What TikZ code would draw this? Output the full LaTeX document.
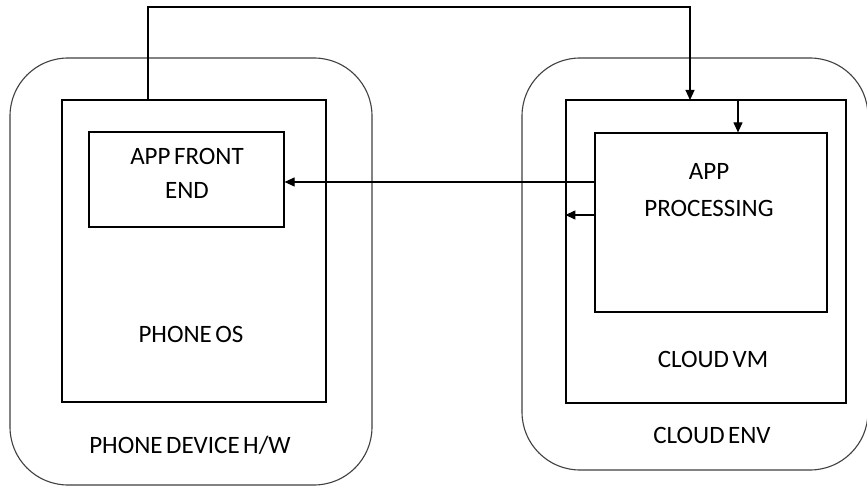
\documentclass[tikz,border=0pt]{standalone}
\usepackage{fontspec}
\setmainfont{Carlito}
\usetikzlibrary{arrows.meta}
\newcommand\tightwords{\spaceskip=0.14em\relax}
\begin{document}
\begin{tikzpicture}[x=1pt,y=-1pt,
  outerbox/.style={draw=black!75,line width=1.1pt,rounded corners=58pt},
  innerbox/.style={draw=black,line width=1.2pt,inner sep=0pt},
  lbl/.style={font=\fontsize{25}{35}\selectfont,align=center,inner sep=0pt,anchor=base,execute at begin node=\tightwords},
  conn/.style={draw=black,line width=1.1pt},
  arr/.style={conn,-{Triangle[length=10pt,width=9pt]}}]
\useasboundingbox (0,0) rectangle (867,486);
\fill[white] (0,0) rectangle (867,486);
% outer environments
\draw[outerbox] (10,58) rectangle (372,485);
\draw[outerbox] (522,58) rectangle (868,470);
% inner boxes
\node[innerbox,minimum width=264pt,minimum height=302pt] (os) at (194,251) {};
\node[innerbox,minimum width=280pt,minimum height=303pt] (vm) at (706,251.5) {};
\node[innerbox,minimum width=195pt,minimum height=95pt] (fe) at (186.5,179.5) {};
\node[innerbox,minimum width=232pt,minimum height=179pt] (ap) at (711,222.5) {};
\coordinate (osTopConn) at (148,100);
\coordinate (topTurn) at (148,7);
\coordinate (vmTopIn) at (690,100);
\coordinate (vmTopOut) at (738,100);
% labels (base anchor = baseline of the last line)
\node[lbl] (feL) at (187,199) {APP FRONT\\[-1pt]END};
\node[lbl] (apL) at (709,217) {APP\\[2pt]PROCESSING};
\node[lbl] (osL) at (191,342) {PHONE OS};
\node[lbl] (vmL) at (713,367) {CLOUD VM};
\node[lbl] (hwL) at (190,453) {PHONE DEVICE H/W};
\node[lbl] (envL) at (712,443) {CLOUD ENV};
% connectors
\draw[arr] (osTopConn) -- (topTurn) -| (vmTopIn);
\draw[arr] (vmTopOut) -- (ap.north -| vmTopOut);
\draw[arr] (ap.west |- 0,182) -- (fe.east |- 0,182);
\draw[arr] (ap.west |- 0,215) -- (vm.west |- 0,215);
\end{tikzpicture}
\end{document}
